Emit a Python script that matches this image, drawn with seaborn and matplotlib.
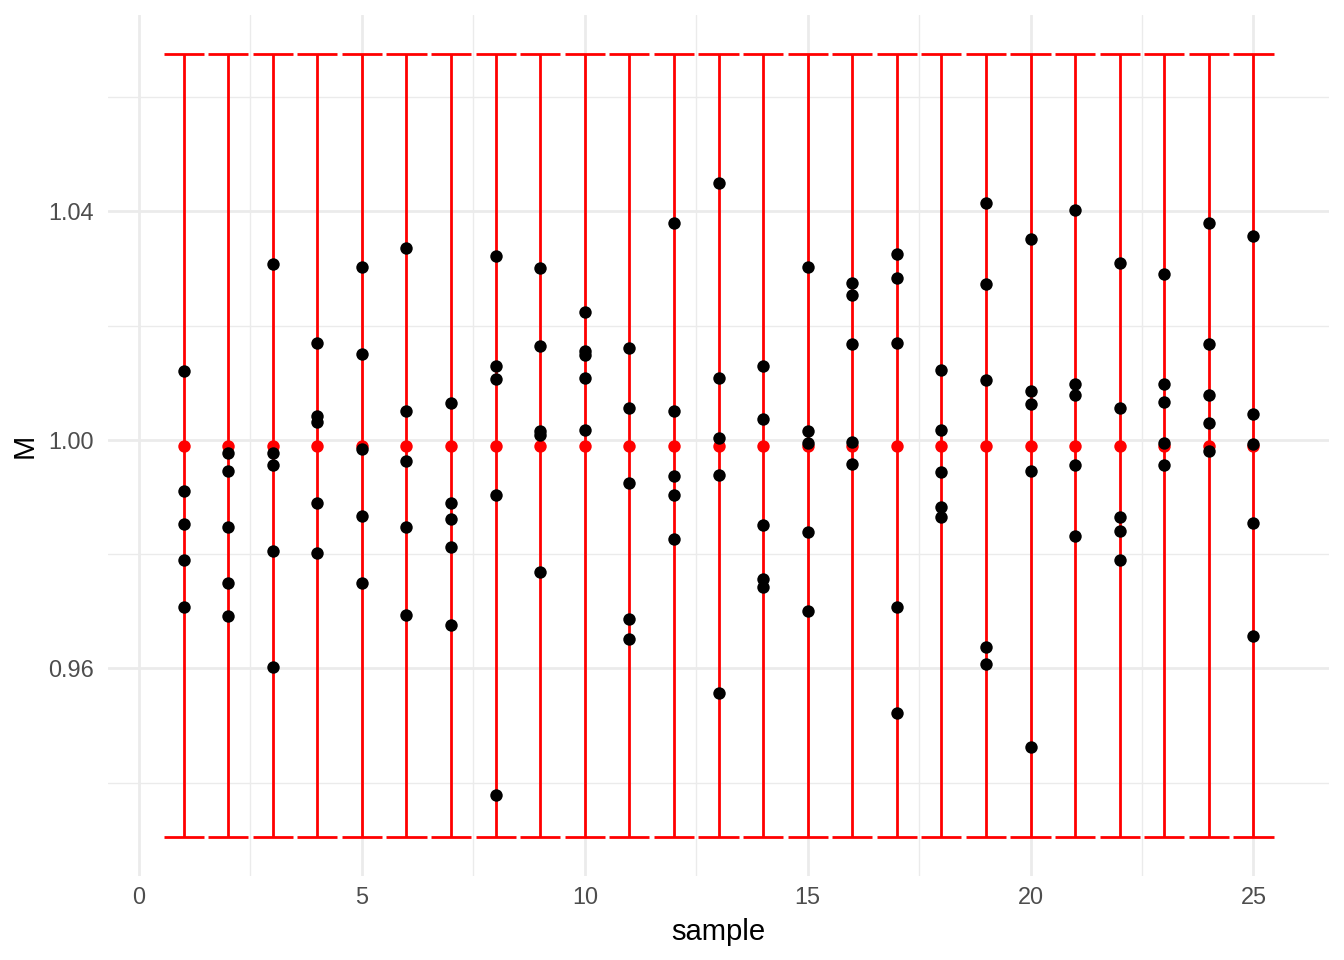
import numpy as np
import pandas as pd
import seaborn as sns
import matplotlib.pyplot as plt
from matplotlib.ticker import MultipleLocator, FormatStrFormatter

# five measurements per sample, listed from highest to lowest
sample = list(range(1, 26))
m_1 = [1.0121, 0.9976, 1.0307, 1.0170, 1.0303, 1.0336, 1.0064, 1.0322, 1.0301, 1.0223, 1.0160, 1.0380, 1.0450,
       1.0130, 1.0303, 1.0275, 1.0326, 1.0123, 1.0415, 1.0352, 1.0403, 1.0309, 1.0291, 1.0380, 1.0357]
m_2 = [0.9910, 0.9945, 0.9976, 1.0041, 1.0151, 1.0050, 0.9889, 1.0130, 1.0165, 1.0156, 1.0055, 1.0050, 1.0109,
       1.0036, 1.0015, 1.0253, 1.0284, 1.0018, 1.0272, 1.0086, 1.0097, 1.0055, 1.0097, 1.0167, 1.0046]
m_3 = [0.9852, 0.9848, 0.9955, 1.0032, 0.9983, 0.9962, 0.9862, 1.0106, 1.0016, 1.0149, 0.9925, 0.9936, 1.0004,
       0.9850, 0.9994, 1.0167, 1.0169, 0.9943, 1.0104, 1.0062, 1.0079, 0.9864, 1.0067, 1.0078, 0.9992]
m_4 = [0.9789, 0.9750, 0.9805, 0.9889, 0.9866, 0.9848, 0.9812, 0.9903, 1.0009, 1.0109, 0.9686, 0.9903, 0.9938,
       0.9756, 0.9838, 0.9997, 0.9707, 0.9882, 0.9637, 0.9946, 0.9955, 0.9840, 0.9994, 1.0029, 0.9854]
m_5 = [0.9707, 0.9691, 0.9602, 0.9801, 0.9749, 0.9694, 0.9675, 0.9378, 0.9768, 1.0018, 0.9651, 0.9826, 0.9556,
       0.9742, 0.9701, 0.9957, 0.9521, 0.9864, 0.9607, 0.9463, 0.9831, 0.9789, 0.9955, 0.9980, 0.9656]

# reference value and its limits (same for every sample)
ref_mean = [0.999] * 25
ref_low = [0.9305] * 25
ref_high = [1.0675] * 25

wide = pd.DataFrame({"sample": sample, "m1": m_1, "m2": m_2, "m3": m_3, "m4": m_4, "m5": m_5})
points = wide.melt(id_vars="sample", value_name="M")
ref = pd.DataFrame({"sample": sample, "M": ref_mean, "low": ref_low, "high": ref_high})

sns.set_theme(style="white")
plt.rcParams['font.family'] = ['Liberation Sans', 'DejaVu Sans']

fig = plt.figure(figsize=(13.44, 9.6), dpi=100)
ax = fig.add_axes([108 / 1344, 84 / 960, 1221 / 1344, 861 / 960])

# error bars, width 0.9 like ggplot
ax.vlines(ref["sample"], ref["low"], ref["high"], color="red", lw=2.0, zorder=2)
ax.hlines(ref["low"], ref["sample"] - 0.45, ref["sample"] + 0.45, color="red", lw=2.0, zorder=2)
ax.hlines(ref["high"], ref["sample"] - 0.45, ref["sample"] + 0.45, color="red", lw=2.0, zorder=2)

sns.scatterplot(data=ref, x="sample", y="M", color="red", s=80, linewidth=0, ax=ax, zorder=3)
sns.scatterplot(data=points, x="sample", y="M", color="black", s=80, linewidth=0, ax=ax, zorder=4)

ax.set_xlim(-0.695, 26.695)
ax.set_ylim(0.92365, 1.07435)
ax.xaxis.set_major_locator(MultipleLocator(5))
ax.xaxis.set_minor_locator(MultipleLocator(2.5))
ax.yaxis.set_major_locator(MultipleLocator(0.04))
ax.yaxis.set_minor_locator(MultipleLocator(0.02))
ax.yaxis.set_major_formatter(FormatStrFormatter('%.2f'))

ax.grid(which="major", color="#EBEBEB", lw=2.0)
ax.grid(which="minor", color="#EBEBEB", lw=1.0)
ax.set_axisbelow(True)
for s in ax.spines.values():
    s.set_visible(False)

ax.tick_params(axis="x", which="both", length=0, labelsize=16.9, labelcolor="#4D4D4D", pad=7)
ax.tick_params(axis="y", which="both", length=0, labelsize=16.9, labelcolor="#4D4D4D", pad=10)
ax.set_xlabel("sample", fontsize=21.1, color="black", labelpad=7)
ax.set_ylabel("M", fontsize=21.1, color="black", labelpad=7)

plt.savefig("out.png", dpi=100)
